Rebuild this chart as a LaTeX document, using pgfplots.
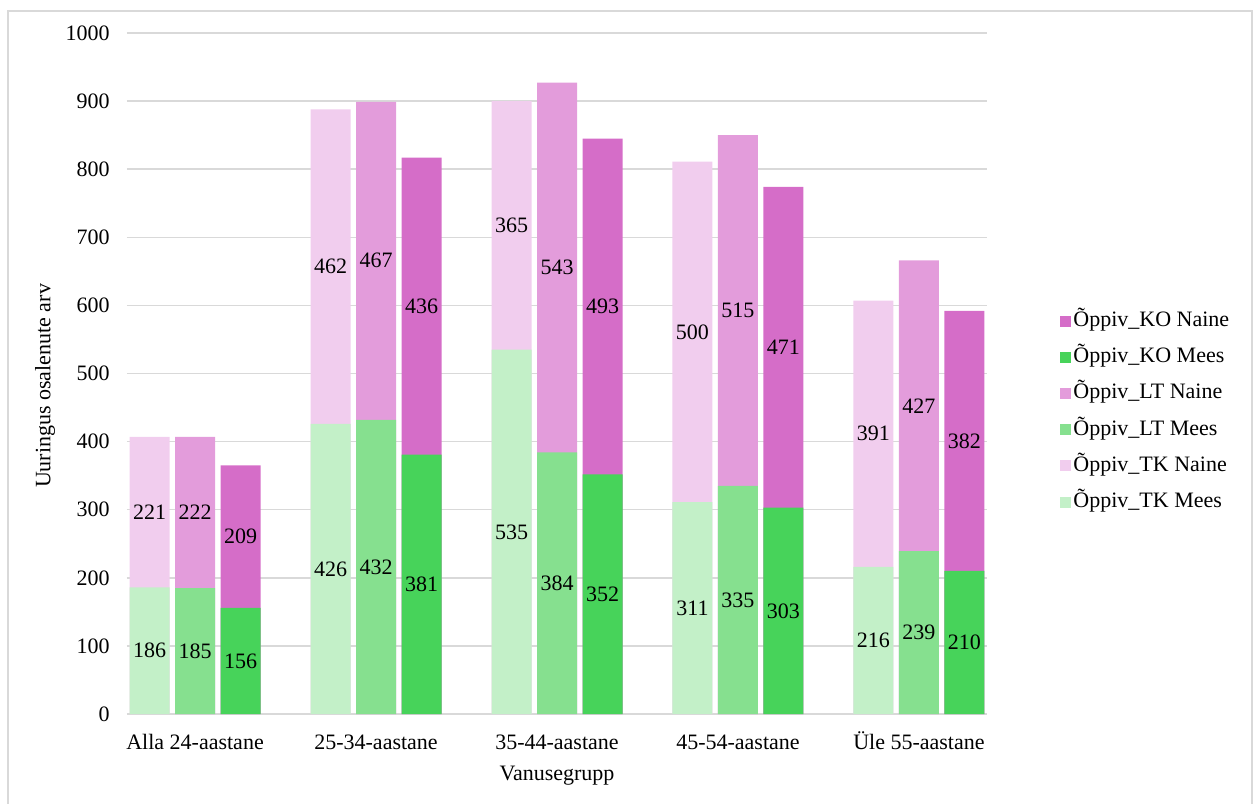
\documentclass[border=0pt]{standalone}
\usepackage{fontspec}
\setmainfont{Liberation Serif}
\usepackage{pgfplots}
\usepackage{pgfplotstable}
\pgfplotsset{compat=1.18}
\definecolor{tkm}{HTML}{C3F0C8}
\definecolor{ltm}{HTML}{86E08F}
\definecolor{kom}{HTML}{47D35A}
\definecolor{tkn}{HTML}{F1CDEE}
\definecolor{ltn}{HTML}{E39CDB}
\definecolor{kon}{HTML}{D56DC8}
\definecolor{gridgray}{HTML}{D9D9D9}
\definecolor{bordergray}{HTML}{D9D9D9}
\pgfplotstableread{
g mTK nTK mLT nLT mKO nKO
0 186 221 185 222 156 209
1 426 462 432 467 381 436
2 535 365 384 543 352 493
3 311 500 335 515 303 471
4 216 391 239 427 210 382
}\data
\begin{document}
\fontsize{11}{13}\selectfont
\begin{tikzpicture}
\begin{axis}[
  at={(0,0)}, anchor=south west,
  scale only axis,
  width=430pt, height=340.5pt,
  xmin=-0.376, xmax=4.376,
  ymin=0, ymax=1000,
  ytick={0,100,...,1000},
  xtick={0,1,2,3,4},
  xticklabels={Alla 24-aastane, 25-34-aastane, 35-44-aastane, 45-54-aastane, Üle 55-aastane},
  ymajorgrids,
  grid style={draw=gridgray, line width=0.75pt},
  axis line style={draw=none},
  major tick length=0pt,
  tick style={draw=none},
  /pgf/number format/assume math mode=true,
  /pgf/number format/1000 sep={},
  yticklabel style={anchor=east, xshift=-4.8pt},
  xticklabel style={anchor=base, yshift=-17.5pt},
  every axis y label/.style={at={(axis description cs:-0.0953,0.4817)}, rotate=90, anchor=center},
  every axis x label/.style={at={(axis description cs:0.5,0)}, anchor=base, yshift=-33pt},
  ylabel={Uuringus osalenute arv},
  xlabel={Vanusegrupp},
  legend style={at={(axis description cs:1.0849,0.4442)}, anchor=west, draw=none, fill=none, inner sep=0pt,
    row sep=5.6pt, nodes={inner sep=1pt, text height=8pt, text depth=2.5pt}},
  legend cell align=left,
  legend image code/.code={\fill[#1, draw=none] (0pt,-2.75pt) rectangle (5.5pt,2.75pt);},
  nodes near coords style={anchor=center, text=black},
]
\addlegendimage{fill=kon, draw=none}\addlegendentry{Õppiv\_KO Naine}
\addlegendimage{fill=kom, draw=none}\addlegendentry{Õppiv\_KO Mees}
\addlegendimage{fill=ltn, draw=none}\addlegendentry{Õppiv\_LT Naine}
\addlegendimage{fill=ltm, draw=none}\addlegendentry{Õppiv\_LT Mees}
\addlegendimage{fill=tkn, draw=none}\addlegendentry{Õppiv\_TK Naine}
\addlegendimage{fill=tkm, draw=none}\addlegendentry{Õppiv\_TK Mees}
% TK
\addplot[ybar, forget plot, bar width=20pt, bar shift=-22.75pt, fill=tkn, draw=none] table[x=g, y expr=\thisrow{mTK}+\thisrow{nTK}] {\data};
\addplot[ybar, forget plot, bar width=20pt, bar shift=-22.75pt, fill=tkm, draw=none] table[x=g, y=mTK] {\data};
% LT
\addplot[ybar, forget plot, bar width=20pt, bar shift=0pt, fill=ltn, draw=none] table[x=g, y expr=\thisrow{mLT}+\thisrow{nLT}] {\data};
\addplot[ybar, forget plot, bar width=20pt, bar shift=0pt, fill=ltm, draw=none] table[x=g, y=mLT] {\data};
% KO
\addplot[ybar, forget plot, bar width=20pt, bar shift=22.75pt, fill=kon, draw=none] table[x=g, y expr=\thisrow{mKO}+\thisrow{nKO}] {\data};
\addplot[ybar, forget plot, bar width=20pt, bar shift=22.75pt, fill=kom, draw=none] table[x=g, y=mKO] {\data};
% labels
\addplot[forget plot, draw=none, no marks, nodes near coords, point meta=explicit, nodes near coords style={xshift=-22.75pt}] table[x=g, y expr=\thisrow{mTK}/2, meta=mTK] {\data};
\addplot[forget plot, draw=none, no marks, nodes near coords, point meta=explicit, nodes near coords style={xshift=-22.75pt}] table[x=g, y expr=\thisrow{mTK}+\thisrow{nTK}/2, meta=nTK] {\data};
\addplot[forget plot, draw=none, no marks, nodes near coords, point meta=explicit] table[x=g, y expr=\thisrow{mLT}/2, meta=mLT] {\data};
\addplot[forget plot, draw=none, no marks, nodes near coords, point meta=explicit] table[x=g, y expr=\thisrow{mLT}+\thisrow{nLT}/2, meta=nLT] {\data};
\addplot[forget plot, draw=none, no marks, nodes near coords, point meta=explicit, nodes near coords style={xshift=22.75pt}] table[x=g, y expr=\thisrow{mKO}/2, meta=mKO] {\data};
\addplot[forget plot, draw=none, no marks, nodes near coords, point meta=explicit, nodes near coords style={xshift=22.75pt}] table[x=g, y expr=\thisrow{mKO}+\thisrow{nKO}/2, meta=nKO] {\data};
\end{axis}
\draw[bordergray, line width=0.75pt] (-59.5pt,-50pt) -- (-59.5pt,351.5pt) -- (562.5pt,351.5pt) -- (562.5pt,-50pt);
\pgfresetboundingbox
\useasboundingbox (-63.5pt,-44.5pt) rectangle (564.5pt,357pt);
\end{tikzpicture}
\end{document}
